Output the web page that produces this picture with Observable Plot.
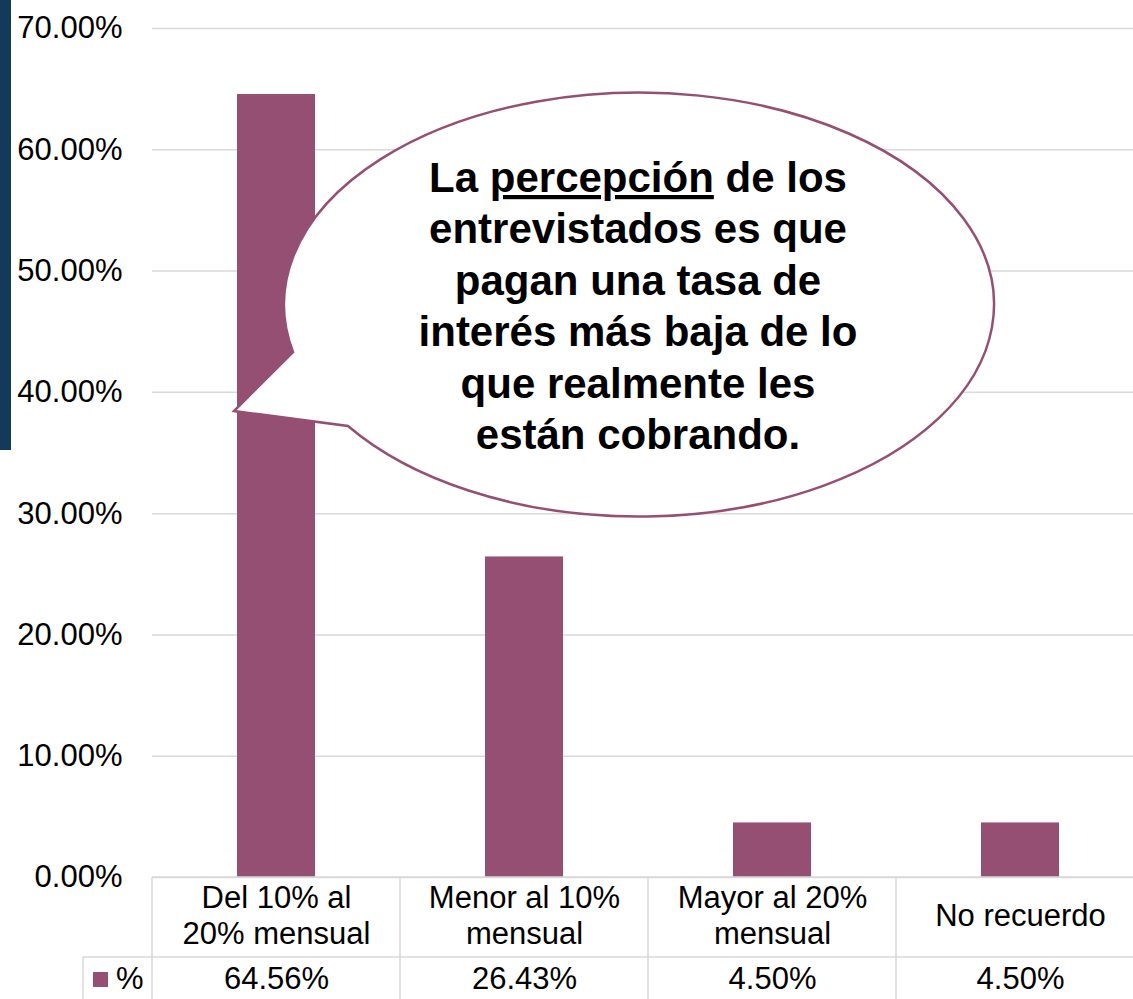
<!DOCTYPE html>
<html><head><meta charset="utf-8">
<script src="https://cdn.jsdelivr.net/npm/d3@7"></script>
<script src="https://cdn.jsdelivr.net/npm/@observablehq/plot@0.6"></script>
<style>
html,body{margin:0;padding:0;background:#fff;overflow:hidden;width:1133px;height:999px;}
#chart{position:absolute;left:0;top:0;width:1144px;}
#chart svg{max-width:none !important;width:1144px !important;height:1010px !important;}
#accent{position:absolute;left:0;top:0;width:11px;height:450px;background:#133a5b;}
svg text{font-family:Arial,"Liberation Sans",sans-serif;}
</style></head><body>
<div id="chart"></div><div id="accent"></div>
<script>
const categories = ["Del 10% al 20% mensual","Menor al 10% mensual","Mayor al 20% mensual","No recuerdo"];
const categoryLabels = ["Del 10% al\n20% mensual","Menor al 10%\nmensual","Mayor al 20%\nmensual","No recuerdo"];
const values = [64.56, 26.43, 4.50, 4.50];
const valueLabels = ["64.56%","26.43%","4.50%","4.50%"];
const yTicks = [0,10,20,30,40,50,60,70];
const seriesName = "%";
const calloutLines = [
  [["La ",false],["percepción",true],[" de los",false]],
  [["entrevistados es que",false]],
  [["pagan una tasa de",false]],
  [["interés más baja de lo",false]],
  [["que realmente les",false]],
  [["están cobrando.",false]]
];

const BAR = "#954f72", GRID = "#d9d9d9";
const data = categories.map((c,i)=>({cat:c, label:categoryLabels[i], val:values[i], vlabel:valueLabels[i]}));

const chart = Plot.plot({
  width:1144, height:1010,
  marginLeft:152, marginRight:0, marginTop:28, marginBottom:133,
  style:{fontFamily:"Arial, 'Liberation Sans', sans-serif", background:"transparent", maxWidth:"none"},
  x:{domain:categories, paddingInner:0.685, paddingOuter:0.3425, axis:null},
  y:{domain:[0,70]},
  marks:[
    Plot.gridY(yTicks,{stroke:GRID, strokeOpacity:1, strokeWidth:1.5}),
    Plot.axisY(yTicks,{tickSize:0, tickPadding:30, fontSize:31, fill:"#000", label:null, tickFormat:d=>d.toFixed(2)+"%"}),
    Plot.barY(data,{x:"cat", y:"val", fill:BAR}),
    Plot.text(data,{x:"cat", text:"label", frameAnchor:"bottom", lineAnchor:"middle", dy:37, fontSize:31, lineHeight:1.16, fill:"#000"}),
    Plot.text(data,{x:"cat", text:"vlabel", frameAnchor:"bottom", lineAnchor:"middle", dy:102, fontSize:31, fill:"#000"})
  ]
});
document.getElementById("chart").appendChild(chart);

const xs = chart.scale("x"), ys = chart.scale("y");
const svg = d3.select(chart);
const step = xs.apply(categories[1]) - xs.apply(categories[0]);
const bw = xs.bandwidth;
const edges = categories.map(c => xs.apply(c) - (step - bw)/2);
const y0 = ys.apply(0);
const rowY = 957, bottom = 1010, right = 1144;
const g = svg.append("g").attr("stroke", GRID).attr("stroke-width", 1.5);
g.append("line").attr("x1", edges[0]).attr("x2", right).attr("y1", y0).attr("y2", y0);
g.append("line").attr("x1", 83).attr("x2", right).attr("y1", rowY).attr("y2", rowY);
edges.forEach(e => g.append("line").attr("x1", e).attr("x2", e).attr("y1", y0).attr("y2", bottom));
g.append("line").attr("x1", 83).attr("x2", 83).attr("y1", rowY).attr("y2", bottom);
// legend key
svg.append("rect").attr("x", 93).attr("y", 972).attr("width", 15).attr("height", 15).attr("fill", BAR);
svg.append("text").attr("x", 116).attr("y", 989).attr("text-anchor", "start").attr("font-size", 31).attr("fill", "#000").text(seriesName);

// callout bubble
const cx = 638, cy = 303, rx = 355, ry = 212;
const A = [293, 352], tip = [234, 411], B = [348, 426];
svg.append("path")
  .attr("d", `M${A[0]},${A[1]} L${tip[0]},${tip[1]} L${B[0]},${B[1]} A${rx},${ry} 0 1 0 ${A[0]},${A[1]} Z`)
  .attr("fill", "#fff").attr("stroke", BAR).attr("stroke-width", 2.5).attr("stroke-linejoin", "miter");
const t = svg.append("text").attr("text-anchor", "middle").attr("font-size", 42).attr("font-weight", "bold").attr("fill", "#000");
calloutLines.forEach((segs, i) => {
  const line = t.append("tspan").attr("x", cx).attr("y", 192 + i*51.4);
  segs.forEach(([s, u]) => {
    const sp = line.append("tspan").text(s);
    if (u) sp.style("text-decoration", "underline");
  });
});
</script>
</body></html>
